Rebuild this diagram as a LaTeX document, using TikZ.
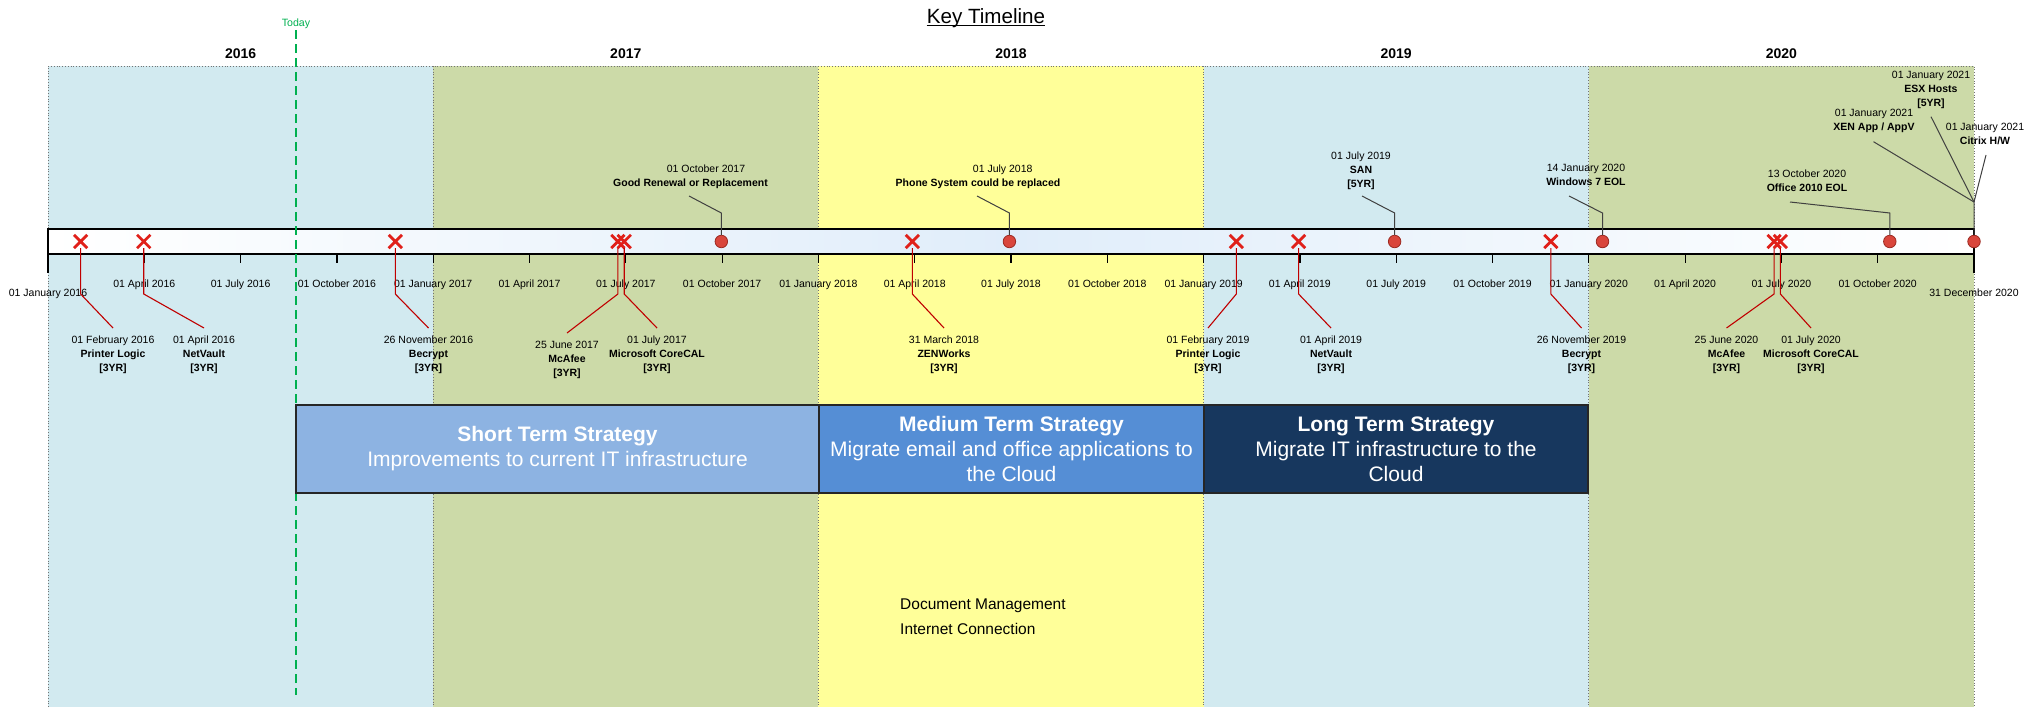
\documentclass[tikz,border=0pt]{standalone}
\usepackage{fontspec}
\setmainfont{Liberation Sans}
\usetikzlibrary{positioning, shapes.misc}

\definecolor{bandblue}{HTML}{D2EAF0}
\definecolor{bandgreen}{HTML}{CCDAA8}
\definecolor{bandyellow}{HTML}{FFFF99}
\definecolor{barblue}{HTML}{E0EDFA}
\definecolor{shortblue}{HTML}{8DB3E2}
\definecolor{mediumblue}{HTML}{558ED5}
\definecolor{longblue}{HTML}{17375E}
\definecolor{todaygreen}{HTML}{00B050}
\definecolor{xred}{HTML}{E0201A}
\definecolor{linered}{HTML}{C00000}
\definecolor{dotred}{HTML}{D9463C}
\definecolor{dotrim}{HTML}{9C2A22}

\newcommand{\tlx}[1]{48+385.2*(#1)}

\begin{document}
\begin{tikzpicture}[x=1pt, y=-1pt,
  bandline/.style={draw=black!55, dotted, line width=0.8pt},
  yearlbl/.style={font=\fontsize{14}{16}\selectfont\bfseries, anchor=base, inner sep=0pt},
  qlbl/.style={font=\fontsize{10.5}{14}\selectfont, anchor=base, inner sep=0pt},
  evlbl/.style={font=\fontsize{10.5}{14}\selectfont, align=center, anchor=north, inner sep=0pt},
  qtick/.style={line width=1.2pt},
  retire/.style={cross out, draw=xred, line width=2.8pt, minimum size=10.5pt, inner sep=0pt},
  event/.style={circle, draw=dotrim, fill=dotred, line width=0.8pt, minimum size=12.5pt, inner sep=0pt},
  redline/.style={draw=linered, line width=1.1pt},
  greyline/.style={draw=black!75, line width=1pt},
  strat/.style={draw=black!85, line width=1.2pt, text=white, align=center, inner sep=0pt, outer sep=0pt, minimum height=88pt, font=\fontsize{21}{25}\selectfont},
  note/.style={font=\fontsize{15.5}{18}\selectfont, anchor=base west, inner sep=0pt}]

\useasboundingbox (0,0) rectangle (2036,707);

\foreach \c [count=\i from 0] in {bandblue,bandgreen,bandyellow,bandblue,bandgreen}
  \fill[\c] ({\tlx{\i}},66) rectangle ({\tlx{\i+1}},707);
\draw[bandline] (48,707) -- (48,66) -- (1974,66) -- (1974,707);
\foreach \i in {1,...,4}
  \draw[bandline] ({\tlx{\i}},66) -- ({\tlx{\i}},707);
\foreach \yr [count=\i from 0] in {2016,...,2020}
  \node[yearlbl] (yr\yr) at ({\tlx{\i+0.5}},58.3) {\yr};

\node[font=\fontsize{20.6}{24}\selectfont, anchor=base, inner sep=0pt] (title) at (986,23) {Key Timeline};
\draw[line width=1pt] ([yshift=-2pt]title.base west) -- ([yshift=-2pt]title.base east);

\draw[line width=1.3pt, left color=white, right color=white, middle color=barblue] (48,229) rectangle (1974,254);

\node[font=\fontsize{10.6}{12}\selectfont, text=todaygreen, anchor=base, inner sep=0pt] (today) at (296,26.8) {Today};
\coordinate (todayend) at (296,695);
\draw[todaygreen, line width=1.3pt, dash pattern=on 9pt off 5pt] ([yshift=-1pt]today.south) -- (todayend);

\node[strat, fill=shortblue, minimum width=523pt] (short) at (557.5,449)
  {\textbf{Short Term Strategy}\\Improvements to current IT infrastructure};
\node[strat, fill=mediumblue, minimum width=385pt, right=0pt of short] (medium)
  {\textbf{Medium Term Strategy}\\Migrate email and office applications to\\the Cloud};
\node[strat, fill=longblue, minimum width=384pt, right=0pt of medium] (long)
  {\textbf{Long Term Strategy}\\Migrate IT infrastructure to the\\Cloud};

\node[note] (docmgmt) at (900,609.2) {Document Management};
\node[note] (inetconn) at (900,634.7) {Internet Connection};

\foreach \yr [count=\i from 0] in {2016,...,2020}
  \foreach \m [count=\q from 0] in {January,April,July,October} {
    \ifnum\i\q>0
      \draw[qtick] ({\tlx{\i+\q/4}},254) -- ++(0,9);
      \node[qlbl] (q\i\q) at ({\tlx{\i+\q/4}},287.8) {01 \m{} \yr};
    \fi
  }
\draw[qtick] (48,254) -- (48,273);
\node[qlbl] (qstart) at (48,296.6) {01 January 2016};
\draw[qtick] (1974,254) -- (1974,273);
\node[qlbl] (qend) at (1974,296.6) {31 December 2020};

\foreach \n/\f/\ex/\ey/\dt/\nm in {
  pl16/0.0847/113/328/01 February 2016/Printer Logic,
  nv16/0.2486/204/328/01 April 2016/NetVault,
  bc16/0.9016/428.5/328/26 November 2016/Becrypt,
  mc17/1.4795/567/333/25 June 2017/McAfee,
  ms17/1.4959/657/328/01 July 2017/Microsoft CoreCAL,
  zw18/2.2438/944/328/31 March 2018/ZENWorks,
  pl19/3.0849/1208/328/01 February 2019/Printer Logic,
  nv19/3.2466/1331/328/01 April 2019/NetVault,
  bc19/3.9014/1581.5/328/26 November 2019/Becrypt,
  mc20/4.4809/1726.5/328/25 June 2020/McAfee,
  ms20/4.4973/1811/328/01 July 2020/Microsoft CoreCAL} {
  \node[retire] (\n) at ({\tlx{\f}},241.5) {};
  \coordinate (e\n) at (\ex,\ey);
  \draw[redline] (\n) -- ++(0,52.5) -- (e\n);
  \node[evlbl, below=8pt of e\n] (l\n) {\dt\\\textbf{\nm}\\\textbf{[3YR]}};
}

\foreach \n/\f/\ex/\ey in {gr17/1.748/689/196, ps18/2.4959/977/196, sn19/3.4959/1362/196,
  w720/4.0355/1569/196, of20/4.7814/1790/202} {
  \node[event] (\n) at ({\tlx{\f}},241.5) {};
  \coordinate (e\n) at (\ex,\ey);
  \draw[greyline] (\n) -- ++(0,-28.5) -- (e\n);
}
\node[event] (j21) at (1974,241.5) {};
\coordinate (j21k) at (1974,202);
\coordinate (eesx) at (1931,116.7);
\coordinate (exen) at (1873.5,141.7);
\coordinate (ectx) at (1986,155);
\draw[greyline] (j21) -- (j21k) -- (eesx);
\draw[greyline] (j21k) -- (exen);
\draw[greyline] (j21k) -- (ectx);

\node[evlbl] (lgr17d) at (706,164.2) {01 October 2017};
\node[evlbl] (lgr17) at (690.5,178.2) {\textbf{Good Renewal or Replacement}};
\node[evlbl] (lps18d) at (1002.7,164.2) {01 July 2018};
\node[evlbl] (lps18) at (978,178.2) {\textbf{Phone System could be replaced}};
\node[evlbl] (lsn19) at (1361,151.2) {01 July 2019\\\textbf{SAN}\\\textbf{[5YR]}};
\node[evlbl] (lw720) at (1586,164.2) {14 January 2020\\\textbf{Windows 7 EOL}};
\node[evlbl] (lof20) at (1807,169.2) {13 October 2020\\\textbf{Office 2010 EOL}};
\node[evlbl] (lesx) at (1931,71.2) {01 January 2021\\\textbf{ESX Hosts}\\\textbf{[5YR]}};
\node[evlbl] (lxen) at (1874,109.2) {01 January 2021\\\textbf{XEN App / AppV}};
\node[evlbl] (lctx) at (1985,123.2) {01 January 2021\\\textbf{Citrix H/W}};
\end{tikzpicture}
\end{document}
